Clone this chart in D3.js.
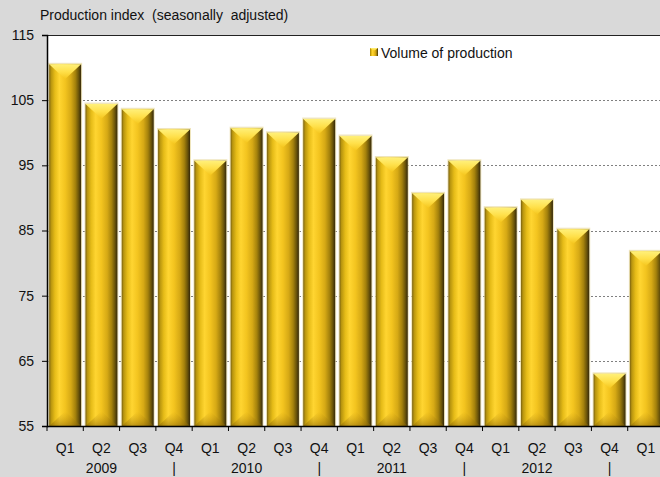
<!DOCTYPE html>
<html>
<head>
<meta charset="utf-8">
<script src="https://cdn.jsdelivr.net/npm/d3@7/dist/d3.min.js"></script>
<style>
  html, body { margin: 0; padding: 0; background: #d9d9d9; }
  svg { display: block; }
  text { font-family: "Liberation Sans", Arial, sans-serif; fill: #111; }
</style>
</head>
<body>
<svg id="chart" width="660" height="477"></svg>
<script>
// Quarterly production index, seasonally adjusted
const quarters = ["Q1","Q2","Q3","Q4","Q1","Q2","Q3","Q4","Q1","Q2","Q3","Q4","Q1","Q2","Q3","Q4","Q1"];
const yearRow  = ["","2009","","|","","2010","","|","","2011","","|","","2012","","|",""];
const volume   = [110.5,104.4,103.6,100.5,95.7,100.7,100.0,102.1,99.5,96.2,90.7,95.7,88.5,89.7,85.2,63.0,81.8];
const yTicks   = [55,65,75,85,95,105,115];
const titleText  = "Production index  (seasonally  adjusted)";
const legendText = "Volume of production";

const W = 660, H = 477;
const plot = { left: 47, right: 664, top: 35, bottom: 426 };

const svg = d3.select("#chart");
const keys = d3.range(quarters.length);

const x = d3.scaleBand()
  .domain(keys)
  .range([plot.left, plot.right])
  .paddingInner(0.12)
  .paddingOuter(0.06);

const y = d3.scaleLinear()
  .domain([55, 115])
  .range([plot.bottom, plot.top]);

// gradients for the bevelled bars
const defs = svg.append("defs");
const body = defs.append("linearGradient").attr("id", "barBody")
  .attr("x1", 0).attr("x2", 1).attr("y1", 0).attr("y2", 0);
[[0, "#7a6212"], [0.06, "#b8950f"], [0.18, "#e6bc18"], [0.32, "#ffd531"],
 [0.5, "#f3c41f"], [0.68, "#d6a915"], [0.82, "#a5820c"], [0.92, "#6b550a"], [1, "#35290a"]]
  .forEach(([o, c]) => body.append("stop").attr("offset", o).attr("stop-color", c));

const topG = defs.append("linearGradient").attr("id", "barTop")
  .attr("x1", 0).attr("x2", 0).attr("y1", 0).attr("y2", 1);
[[0, "#fff07a"], [0.5, "#ffe04a"], [1, "#f5c61d"]]
  .forEach(([o, c]) => topG.append("stop").attr("offset", o).attr("stop-color", c));

const botG = defs.append("linearGradient").attr("id", "barBot")
  .attr("x1", 0).attr("x2", 0).attr("y1", 0).attr("y2", 1);
[[0, "#c99a10", 0.0], [1, "#8a6608", 0.55]]
  .forEach(([o, c, a]) => botG.append("stop").attr("offset", o).attr("stop-color", c).attr("stop-opacity", a));

// plot area
svg.append("rect")
  .attr("x", plot.left).attr("y", plot.top)
  .attr("width", W - plot.left).attr("height", plot.bottom - plot.top)
  .attr("fill", "#ffffff");

// dotted gridlines
svg.append("g").selectAll("line")
  .data(yTicks.filter(t => t > 55 && t < 115))
  .join("line")
  .attr("x1", plot.left).attr("x2", W)
  .attr("y1", d => Math.round(y(d)) + 0.5).attr("y2", d => Math.round(y(d)) + 0.5)
  .attr("stroke", "#808080").attr("stroke-width", 1)
  .attr("stroke-dasharray", "2,2");

// top border of the plot area
svg.append("line")
  .attr("x1", plot.left).attr("x2", W)
  .attr("y1", plot.top + 0.5).attr("y2", plot.top + 0.5)
  .attr("stroke", "#222").attr("stroke-width", 1.2);

// bars
const bw = x.bandwidth();
const bars = svg.append("g").selectAll("g")
  .data(keys)
  .join("g")
  .attr("transform", i => `translate(${x(i)},0)`);

bars.append("rect")
  .attr("x", -1).attr("y", i => y(volume[i]) - 1.5)
  .attr("width", bw + 2).attr("height", i => y(55) - y(volume[i]) + 1.5)
  .attr("fill", "#e9dca6").attr("opacity", 0.75);

bars.append("rect")
  .attr("x", 0).attr("y", i => y(volume[i]))
  .attr("width", bw).attr("height", i => y(55) - y(volume[i]))
  .attr("fill", "url(#barBody)");

const bev = bw / 2 * 0.92;
bars.append("path")
  .attr("d", i => {
    const t = y(volume[i]);
    return `M0,${t}L${bw},${t}L${bw / 2},${t + bev}Z`;
  })
  .attr("fill", "url(#barTop)");

bars.append("path")
  .attr("d", i => {
    const b = y(55);
    return `M0,${b}L${bw},${b}L${bw / 2},${b - bev}Z`;
  })
  .attr("fill", "url(#barBot)");

// y axis
const yAxis = svg.append("g")
  .attr("transform", `translate(${plot.left},0)`)
  .call(d3.axisLeft(y).tickValues(yTicks).tickSize(5).tickPadding(8).tickFormat(d3.format("d")));
yAxis.select(".domain").attr("stroke", "#000").attr("stroke-width", 1.5);
yAxis.selectAll(".tick line").attr("stroke", "#000");
yAxis.selectAll(".tick text")
  .attr("font-size", 14).attr("font-family", "Liberation Sans, Arial, sans-serif").attr("fill", "#111");

// x axis line and band-boundary ticks
svg.append("line")
  .attr("x1", plot.left).attr("x2", W)
  .attr("y1", plot.bottom + 0.5).attr("y2", plot.bottom + 0.5)
  .attr("stroke", "#000").attr("stroke-width", 1.5);

svg.append("g").selectAll("line")
  .data(d3.range(quarters.length + 1))
  .join("line")
  .attr("x1", i => plot.left + i * x.step())
  .attr("x2", i => plot.left + i * x.step())
  .attr("y1", plot.bottom).attr("y2", plot.bottom + 5)
  .attr("stroke", "#000");

// category labels: quarter row and year row
svg.append("g").selectAll("text")
  .data(keys)
  .join("text")
  .attr("x", i => x(i) + bw / 2)
  .attr("y", 453)
  .attr("text-anchor", "middle")
  .attr("font-size", 14)
  .text(i => quarters[i]);

svg.append("g").selectAll("text")
  .data(keys.filter(i => yearRow[i] !== ""))
  .join("text")
  .attr("x", i => x(i) + bw / 2)
  .attr("y", 473)
  .attr("text-anchor", "middle")
  .attr("font-size", 14)
  .text(i => yearRow[i]);

// title
svg.append("text")
  .attr("x", 40).attr("y", 20)
  .attr("font-size", 14)
  .style("white-space", "pre")
  .attr("xml:space", "preserve")
  .text(titleText);

// legend
const lg = svg.append("g").attr("transform", "translate(370,48)");
lg.append("rect").attr("width", 8).attr("height", 8).attr("fill", "url(#barBody)");
lg.append("path").attr("d", "M0,0L8,0L4,3Z").attr("fill", "url(#barTop)");
lg.append("text").attr("x", 11).attr("y", 10)
  .attr("font-size", 14)
  .text(legendText);
</script>
</body>
</html>
